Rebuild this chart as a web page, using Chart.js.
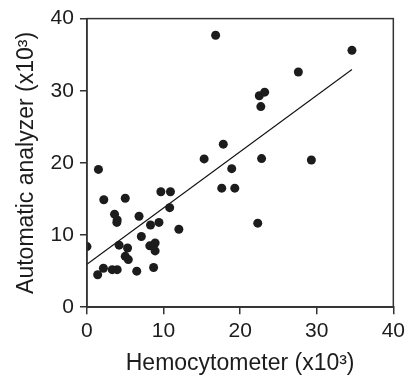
<!DOCTYPE html>
<html>
<head>
<meta charset="utf-8">
<script src="https://cdn.jsdelivr.net/npm/chart.js@4"></script>
<style>
  html, body { margin: 0; padding: 0; background: #fff; }
  #wrap { width: 409px; height: 378px; }
</style>
</head>
<body>
<div id="wrap"><canvas id="scatter"></canvas></div>
<script>
// hemocytometer count (x10^3) vs automatic analyzer count (x10^3)
const hemoX = [0, 1.4, 1.5, 2.15, 2.2, 3.3, 3.95, 3.6, 3.95, 3.9, 4.2, 5.0, 5.3, 5.0, 5.4,
  6.5, 6.8, 7.1, 8.3, 8.2, 8.7, 8.9, 8.9, 9.4, 9.65, 10.9, 10.8, 12.0, 15.3, 16.8,
  17.6, 17.8, 18.9, 19.3, 22.3, 22.5, 22.7, 22.8, 23.2, 27.6, 29.3, 34.6];
const analyzerY = [8.4, 4.5, 19.1, 5.4, 14.9, 5.2, 5.2, 12.9, 12.1, 11.75, 8.6, 15.1, 8.2, 7.05, 6.6,
  5.0, 12.6, 9.8, 11.4, 8.5, 5.5, 8.9, 7.8, 11.75, 16.0, 16.0, 13.8, 10.8, 20.55, 37.7,
  16.5, 22.6, 19.2, 16.5, 11.65, 29.3, 27.8, 20.6, 29.8, 32.6, 20.4, 35.6];

// regression line end points
const fitX = [0, 34.6];
const fitY = [5.95, 32.95];

const ticks = [0, 10, 20, 30, 40];
const xTitle = "Hemocytometer (x10³)";
const yTitle = "Automatic analyzer (x10³)";

const ink = "#1c1c1c";
const family = "'Liberation Sans', Arial, sans-serif";

const frame = {
  id: "frame",
  afterDraw(chart) {
    const { ctx, chartArea: a } = chart;
    ctx.save();
    ctx.strokeStyle = "#333";
    ctx.lineWidth = 1.5;
    ctx.strokeRect(a.left, a.top, a.right - a.left, a.bottom - a.top);
    ctx.restore();
  },
};

const axis = (title, tickPad, titlePad) => ({
  type: "linear",
  min: 0,
  max: 40,
  afterBuildTicks: (s) => { s.ticks = ticks.map((v) => ({ value: v })); },
  grid: { drawOnChartArea: false, tickLength: 7, color: "#333", lineWidth: 1.5 },
  border: { display: true, color: "#333", width: 1.5 },
  ticks: { color: ink, font: { family, size: 21 }, padding: tickPad, maxRotation: 0 },
  title: { display: true, text: title, color: ink, font: { family, size: 23 }, padding: titlePad },
});

new Chart(document.getElementById("scatter"), {
  type: "scatter",
  data: {
    datasets: [
      {
        data: hemoX.map((x, i) => ({ x, y: analyzerY[i] })),
        backgroundColor: ink,
        borderWidth: 0,
        pointRadius: 4.5,
      },
      {
        type: "line",
        data: fitX.map((x, i) => ({ x, y: fitY[i] })),
        borderColor: "#111",
        borderWidth: 1.1,
        pointRadius: 0,
        fill: false,
      },
    ],
  },
  options: {
    responsive: true,
    maintainAspectRatio: false,
    animation: false,
    layout: { padding: { top: 5, right: 4, left: 13, bottom: 0 } },
    plugins: { legend: { display: false }, tooltip: { enabled: false } },
    scales: {
      x: axis(xTitle, 4, { top: 2, bottom: 1 }),
      y: axis(yTitle, 6, { top: 0, bottom: 4 }),
    },
  },
  plugins: [frame],
});
</script>
</body>
</html>
